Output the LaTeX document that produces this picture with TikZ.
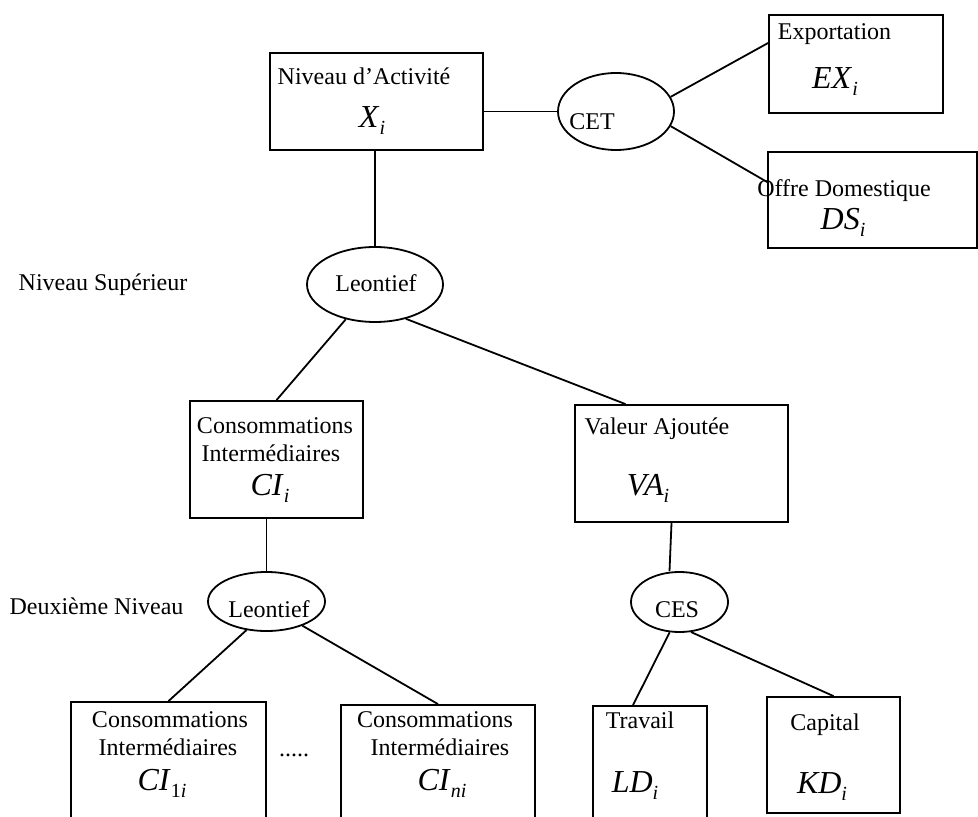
\documentclass[tikz,border=0pt]{standalone}
\usepackage{fontspec}
\setmainfont{Liberation Serif}
\usetikzlibrary{shapes.geometric}
\newcommand{\nomvar}[2]{{\fontsize{16}{16}\selectfont\textit{#1}}\raisebox{-3.5pt}{\fontsize{10}{10}\selectfont #2}}

\begin{document}
\begin{tikzpicture}[x=0.5pt,y=-0.5pt,line width=0.9pt,
    box/.style={draw,rectangle,inner sep=0pt},
    oval/.style={draw,ellipse,inner sep=0pt},
    txt/.style={inner sep=0pt,anchor=base,font=\fontsize{12}{14}\selectfont}]
    \clip(0,0)rectangle(978,817);
    % cadres
    \node[box,minimum width=106.5pt,minimum height=48.5pt](activite)at(376.5,101.5){};
    \node[box,minimum width=87pt,minimum height=49pt](export)at(856,64){};
    \node[box,minimum width=104.5pt,minimum height=48pt](offre)at(872.5,200){};
    \node[box,minimum width=86.5pt,minimum height=58.5pt](ci)at(276.5,459.5){};
    \node[box,minimum width=106.5pt,minimum height=58.5pt](va)at(681.5,463.5){};
    \node[box,minimum width=97.5pt,minimum height=69pt](cia)at(168.5,771){};
    \node[box,minimum width=97pt,minimum height=67.5pt](cin)at(438,772.5){};
    \node[box,minimum width=57pt,minimum height=67pt](travail)at(650,773){};
    \node[box,minimum width=66.5pt,minimum height=58pt](capital)at(833.5,755){};
    % fonctions
    \node[oval,minimum width=58pt,minimum height=38.5pt](cet)at(616,111.5){};
    \node[oval,minimum width=68pt,minimum height=37.5pt](leona)at(375,284.5){};
    \node[oval,minimum width=58.5pt,minimum height=29.5pt](leonb)at(266.5,601.5){};
    \node[oval,minimum width=48.5pt,minimum height=30pt](ces)at(679.5,602){};
    % textes
    \node[txt](tact)at(364,85){Niveau d'Activité};
    \node[txt](vx)at(372,128){\nomvar{X}{\textit{i}}};
    \node[txt](tcet)at(592,130){CET};
    \node[txt](texp)at(834.5,40){Exportation};
    \node[txt](vex)at(835,89){\nomvar{EX}{\textit{i}}};
    \node[txt](toff)at(844,197){Offre Domestique};
    \node[txt](vds)at(843,230){\nomvar{DS}{\textit{i}}};
    \node[txt](tsup)at(103,291){Niveau Supérieur};
    \node[txt](tleona)at(376,292){Leontief};
    \node[txt](tcia)at(275,433){Consommations};
    \node[txt](tcib)at(271,461){Intermédiaires};
    \node[txt](vci)at(270,495){\nomvar{CI}{\textit{i}}};
    \node[txt](tva)at(657,434){Valeur Ajoutée};
    \node[txt](vva)at(648,495){\nomvar{VA}{\textit{i}}};
    \node[txt](tdeux)at(96.5,614){Deuxième Niveau};
    \node[txt](tleonb)at(269,617){Leontief};
    \node[txt](tces)at(677,617){CES};
    \node[txt](tciaa)at(170,727){Consommations};
    \node[txt](tciab)at(168,755){Intermédiaires};
    \node[txt](vcia)at(162,790){\nomvar{CI}{1\textit{i}}};
    \node[txt](dots)at(294,756){.....};
    \node[txt](tcina)at(435,727){Consommations};
    \node[txt](tcinb)at(440,755){Intermédiaires};
    \node[txt](vcin)at(442,790){\nomvar{CI}{\textit{ni}}};
    \node[txt](ttrav)at(640,728){Travail};
    \node[txt](vld)at(635,792){\nomvar{LD}{\textit{i}}};
    \node[txt](tcap)at(825,730){Capital};
    \node[txt](vkd)at(822,793){\nomvar{KD}{\textit{i}}};
    % liaisons
    \draw(activite.east|-cet.west)--(cet.west);
    \draw(cet.15)--([yshift=10.5pt]export.west);
    \draw(cet.-15)--([yshift=9pt]offre.west);
    \draw(activite.south-|leona)--(leona.north);
    \draw(leona.-130)--(ci.north);
    \draw(leona.-48)--([xshift=-28pt]va.north);
    \draw(ci.south-|leonb)--(leonb.north);
    \draw([xshift=-5pt]va.south)--([xshift=-5pt]ces.north);
    \draw(leonb.-125)--(cia.north);
    \draw(leonb.-34.5)--(cin.north);
    \draw(ces.-108)--([xshift=-8.5pt]travail.north);
    \draw(ces.-69)--(capital.north);
\end{tikzpicture}
\end{document}
